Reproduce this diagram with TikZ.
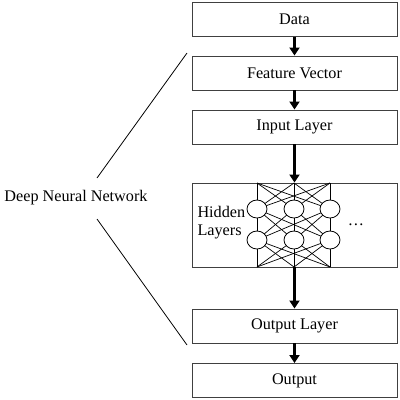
\documentclass[tikz,border=0pt]{standalone}
\usepackage{fontspec}
\setmainfont{Liberation Serif}
\usetikzlibrary{arrows.meta,shapes.geometric}
\begin{document}
\begin{tikzpicture}[x=1pt,y=-1pt,
  stepbox/.style={draw=black!75,line width=0.9pt,minimum width=205pt,minimum height=34pt,inner sep=0pt,font=\fontsize{16.2}{18}\selectfont},
  flow/.style={line width=2.6pt,-{Triangle[width=10pt,length=8pt]}},
  neuron/.style={ellipse,draw,fill=white,line width=0.8pt,minimum width=20pt,minimum height=18pt,inner sep=0pt},
  link/.style={line width=0.7pt},
  brace/.style={line width=0.8pt}]
\useasboundingbox (0,0) rectangle (400,400);
\node[stepbox] (data) at (294.5,19.5) {Data};
\node[stepbox] (feat) at (294.5,73) {Feature Vector};
\node[stepbox] (inp) at (294.5,127) {Input Layer};
\node[stepbox,minimum height=84pt] (hid) at (294.5,225) {};
\node[stepbox] (outl) at (294.5,326) {Output Layer};
\node[stepbox] (out) at (294.5,380.5) {Output};
% hidden network
\foreach \i/\x in {1/257,2/294,3/330}{
  \coordinate (t\i) at (\x,183);
  \coordinate (b\i) at (\x,267);
  \coordinate (c\i) at (\x,209);
  \coordinate (d\i) at (\x,240);
}
\foreach \i in {1,2,3}{\foreach \j in {1,2,3}{
  \draw[link] (t\i) -- (c\j);
  \draw[link] (c\i) -- (d\j);
  \draw[link] (d\i) -- (b\j);
}}
\foreach \i in {1,2,3}{
  \node[neuron] (h1\i) at (c\i) {};
  \node[neuron] (h2\i) at (d\i) {};
}
\node[font=\fontsize{16.2}{18}\selectfont,align=left,anchor=west] (hl) at (194,223) {Hidden\\Layers};
\node[font=\fontsize{16.2}{18}\selectfont,anchor=base,inner sep=0pt] (dots) at (356,225) {…};
% arrows
\draw[flow] (data) -- (feat);
\draw[flow] (feat) -- (inp);
\draw[flow] (inp) -- (hid);
\draw[flow] (hid) -- (outl);
\draw[flow] (outl) -- (out);
% left label
\node[font=\fontsize{16.2}{18}\selectfont] (dnn) at (76,198) {Deep Neural Network};
\coordinate (ua) at (97,178);
\coordinate (ub) at (187,53);
\coordinate (la) at (97,219);
\coordinate (lb) at (187,345);
\draw[brace] (ua) -- (ub);
\draw[brace] (la) -- (lb);
\end{tikzpicture}
\end{document}
